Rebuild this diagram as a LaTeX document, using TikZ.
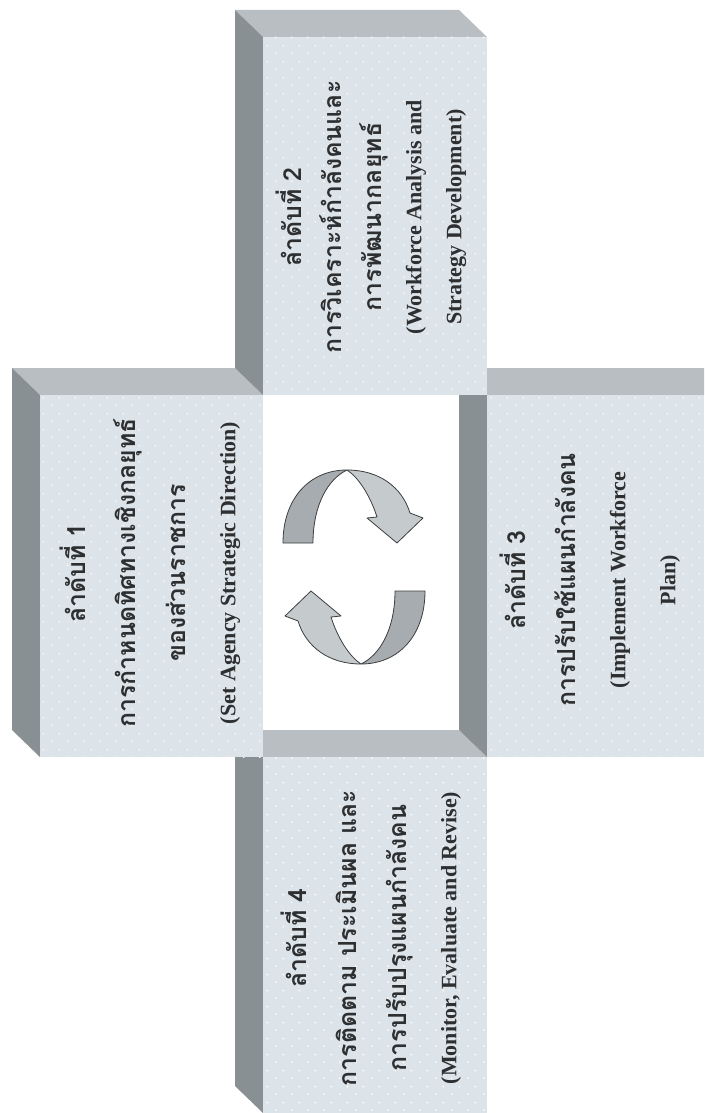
\documentclass[tikz,border=0pt]{standalone}
\usepackage{fontspec}
\setmainfont{Liberation Serif}
\newfontfamily\thaifont[Script=Thai, Scale=1.13]{Loma}
\usetikzlibrary{patterns.meta}

\definecolor{frontc}{RGB}{221,228,233}
\definecolor{topc}{RGB}{184,190,193}
\definecolor{sidec}{RGB}{137,144,147}
\definecolor{arrback}{RGB}{166,172,175}
\definecolor{arrfront}{RGB}{197,202,205}
\definecolor{arrline}{RGB}{60,62,64}
\definecolor{inkc}{RGB}{45,47,49}

\tikzdeclarepattern{
  name=speckle, type=uncolored,
  bounding box={(0pt,0pt) and (16pt,16pt)},
  tile size={(16pt,16pt)},
  code={\fill (4pt,4pt) circle (0.9pt); \fill (12pt,12pt) circle (0.9pt);}
}
\newcommand{\thl}[1]{{\thaifont #1}}

\begin{document}
\begin{tikzpicture}[x=1pt, y=-1pt,
  face/.style={fill=frontc, postaction={pattern=speckle, pattern color=white}},
  tface/.style={fill=topc},
  sface/.style={fill=sidec},
  lbl/.style={rotate=90, align=center, text=inkc, font=\bfseries\fontsize{22}{50}\selectfont},
  arr/.style={draw=arrline, line width=0.8pt, line join=round}]
\fill[white] (0,0) rectangle (704,1113);
\useasboundingbox (0,0) rectangle (704,1113);
% top faces
\fill[tface] (12,368) -- (235,368) -- (263,395) -- (40,395) -- cycle;
\fill[tface] (235,10) -- (459,10) -- (487,37) -- (263,37) -- cycle;
\fill[tface] (459,368) -- (704,368) -- (704,395) -- (487,395) -- cycle;
\fill[tface] (235,730) -- (459,730) -- (487,757) -- (263,757) -- cycle;
% side faces
\fill[sface] (12,368) -- (40,395) -- (40,757) -- (12,730) -- cycle;
\fill[sface] (235,10) -- (263,37) -- (263,395) -- (235,368) -- cycle;
\fill[sface] (459,368) -- (487,395) -- (487,757) -- (459,730) -- cycle;
\fill[sface] (235,730) -- (263,757) -- (263,1113) -- (235,1086) -- cycle;
% front faces
\path[face] (40,395) rectangle (263,757);
\path[face] (263,37) rectangle (487,395);
\path[face] (487,395) rectangle (704,757);
\path[face] (263,757) rectangle (487,1113);
% cycle arrows
\foreach \r in {0,180}{
  \begin{scope}[shift={(354,567)}, rotate=\r]
    \filldraw[arr, fill=arrback] (-71,-24) .. controls (-71,-68) and (-45,-97) .. (-7,-97)
      .. controls (-26,-88) and (-41,-62) .. (-41,-24) -- cycle;
    \filldraw[arr, fill=arrfront] (-7,-97) .. controls (25,-97) and (48,-80) .. (56,-54)
      -- (69,-49) -- (43,-24) -- (13,-49) -- (23,-50)
      .. controls (16,-72) and (4,-90) .. (-7,-97) -- cycle;
  \end{scope}
}
% labels
\node[lbl] (s1) at (150,573) {\thl{ลำดับที่ 1}\\ \thl{การกำหนดทิศทางเชิงกลยุทธ์}\\ \thl{ของส่วนราชการ}\\ (Set Agency Strategic Direction)};
\node[lbl, font=\bfseries\fontsize{22}{40}\selectfont] (s2) at (371,217) {\thl{ลำดับที่ 2}\\ \thl{การวิเคราะห์กำลังคนและ}\\ \thl{การพัฒนากลยุทธ์}\\ (Workforce Analysis and\\ Strategy Development)};
\node[lbl] (s3) at (590,580) {\thl{ลำดับที่ 3}\\ \thl{การปรับใช้แผนกำลังคน}\\ (Implement Workforce\\ Plan)};
\node[lbl] (s4) at (371,938) {\thl{ลำดับที่ 4}\\ \thl{การติดตาม ประเมินผล และ}\\ \thl{การปรับปรุงแผนกำลังคน}\\ (Monitor, Evaluate and Revise)};
\end{tikzpicture}
\end{document}
